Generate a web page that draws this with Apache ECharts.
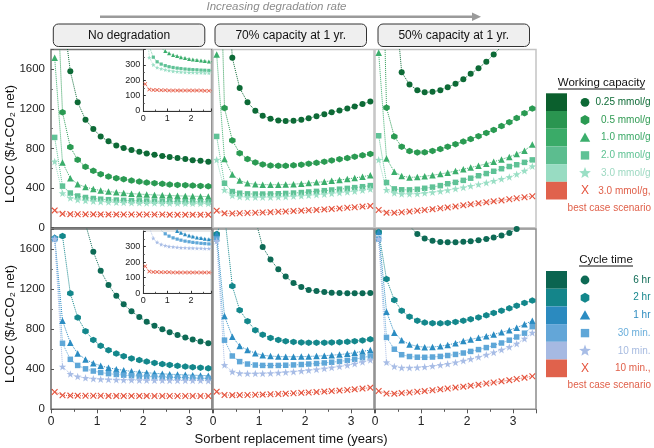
<!DOCTYPE html>
<html><head><meta charset="utf-8">
<script src="https://cdn.jsdelivr.net/npm/echarts@6/dist/echarts.min.js"></script>
<style>html,body{margin:0;padding:0;background:#fff}#c{width:654px;height:448px}</style>
</head><body><div id="c"></div>
<script>
// ---------- DATA ----------
const years = [0.08,0.25,0.42,0.58,0.75,0.92,1.08,1.25,1.42,1.58,1.75,1.92,2.08,2.25,2.42,2.58,2.75,2.92,3.08,3.25,3.42];

const capLabels = ['0.25 mmol/g','0.5 mmol/g','1.0 mmol/g','2.0 mmol/g','3.0 mmol/g','3.0 mmol/g,'];
const cycLabels = ['6 hr','2 hr','1 hr','30 min.','10 min.','10 min.,'];
const panelTitles = ['No degradation','70% capacity at 1 yr.','50% capacity at 1 yr.'];
const yTicks = [0,400,800,1200,1600];
const insetYTicks = [0,100,200,300];

// Top row: working capacity — no degradation
const tlC025 = [5700,2200,1581,1267,1091,997,922,872,831,804,784,767,750,736,723,713,703,693,682,676,666];
const tlC05  = [3000,1166,814,686,615,574,541,517,500,490,476,466,456,449,443,436,432,429,426,422,418];
const tlC10  = [1716,659,500,440,410,390,375,365,357,350,344,339,335,331,328,325,322,320,318,316,314];
const tlC20  = [912,420,350,320,305,295,288,283,279,276,273,271,269,268,266,265,264,263,262,262,261];
const tlC30  = [669,348,300,283,274,268,263,259,256,254,252,251,250,249,248,247,247,246,246,245,245];
const tlBest = [175,140,137,136,135,135,134,134,134,133,133,133,133,133,133,132,132,132,132,132,132];
// Top row: 70% capacity at 1 yr
const tmC025 = [9000,3000,1716,1412,1267,1182,1132,1101,1084,1078,1080,1090,1105,1125,1145,1165,1185,1205,1225,1250,1274];
const tmC05  = [4000,1209,882,753,693,659,639,628,625,625,630,637,646,656,667,679,692,704,717,731,745];
const tmC10  = [1750,693,537,476,449,439,435,434,434,436,440,445,451,458,465,473,482,492,503,515,530];
const tmC20  = [922,449,365,348,342,340,340,341,343,346,350,355,361,367,374,381,389,397,405,414,425];
const tmC30  = [686,382,325,312,308,307,307,308,310,313,317,322,327,333,339,346,353,361,369,378,390];
const tmBest = [172,145,144,146,148,151,154,157,161,164,168,172,176,180,185,190,195,201,207,213,220];
// Top row: 50% capacity at 1 yr
const trC025 = [12000,4000,2400,1571,1446,1389,1368,1372,1389,1419,1453,1500,1554,1611,1676,1750,1830,1920,2010,2110,2220];
const trC05  = [4500,1212,920,818,774,760,762,775,794,818,843,870,895,925,957,988,1027,1066,1108,1157,1204];
const trC10  = [1766,700,565,522,508,512,520,530,542,556,572,590,608,626,645,666,690,715,745,778,840];
const trC20  = [929,456,392,383,382,388,398,410,425,444,458,478,500,525,547,570,596,618,636,660,685];
const trC30  = [686,382,350,340,340,343,350,358,368,380,393,407,422,438,455,473,492,512,540,575,620];
const trBest = [179,152,150,156,163,171,179,187,196,205,215,226,236,246,256,266,276,287,297,307,318];
// Bottom row: cycle time — no degradation
const blH6   = [14000,4900,3070,2290,1850,1573,1382,1240,1133,1048,979,922,874,833,798,768,741,717,696,676,659];
const blH2   = [1710,1730,1158,916,780,693,634,590,556,530,508,491,476,463,452,443,434,427,420,415,409];
const blH1   = [1717,885,665,558,498,460,434,415,400,389,379,371,365,359,355,350,347,344,341,338,336];
const blM30  = [1700,659,499,438,404,382,367,356,348,341,335,331,327,324,321,319,317,315,313,311,309];
const blM10  = [1700,426,353,327,314,306,301,298,295,293,292,291,290,289,289,288,288,287,287,287,286];
const blBest = [173,140,137,136,135,135,135,134,134,134,134,134,134,133,133,133,133,133,133,133,133];
// Bottom row: 70% capacity at 1 yr
const bmH6   = [20000,7000,4300,3000,2300,1900,1620,1495,1398,1325,1262,1222,1192,1180,1170,1163,1160,1158,1158,1158,1160];
const bmH2   = [1750,1950,1230,990,880,790,745,712,693,680,672,667,665,665,665,667,670,674,680,688,699];
const bmH1   = [1750,931,725,632,592,560,540,531,527,525,525,526,528,531,535,540,546,555,565,578,592];
const bmM30  = [1700,690,532,476,452,442,438,437,438,440,443,447,452,457,463,470,478,488,500,515,532];
const bmM10  = [1680,442,376,360,357,357,358,361,365,370,376,383,390,398,407,417,427,440,455,472,492];
const bmBest = [176,143,141,142,143,145,147,150,153,156,160,164,168,172,177,182,187,193,199,207,216];
// Bottom row: 50% capacity at 1 yr
const brH6   = [20000,6000,3500,2300,1830,1750,1705,1683,1670,1667,1668,1672,1678,1688,1700,1715,1735,1760,1800,1840,1890];
const brH2   = [1770,1300,1090,985,925,885,866,860,858,862,872,885,900,917,938,962,985,1008,1035,1062,1085];
const brH1   = [1770,975,765,690,648,628,620,622,630,642,660,683,698,714,730,748,768,790,815,848,885];
const brM30  = [1700,718,600,545,527,520,519,522,528,537,548,562,578,596,616,638,662,690,722,760,825];
const brM10  = [1700,469,428,416,415,418,424,432,442,454,468,484,502,522,544,568,594,622,655,705,765];
const brBest = [183,158,156,162,168,175,182,190,199,208,217,226,236,246,257,268,279,291,303,316,330];

// ---------- STYLE ----------
const greenCols = ['#0d6a36','#2a9a52','#3bae6c','#5fc296','#9adfc5','#e5533d'];
const blueCols  = ['#0d6a55','#13878b','#2b8cc2','#5fa7d8','#a8bde6','#e5533d'];
const greenSw = ['#0b5f2d','#2a9550','#3aab68','#5cbd8f','#98dcc2','#e0624c'];
const blueSw  = ['#0b6450','#14858a','#2b8abf','#63a6d8','#a6b9e2','#e0624c'];
const greenTxt = ['#0e6b36','#2f9a52','#3aa866','#5ec293','#9ed9c2','#e0604a'];
const blueTxt  = ['#0e6a55','#17878d','#2e8cc0','#6aaedb','#a7bbe0','#e0604a'];

const HEX = 'path://M0,-10L8.66,-5L8.66,5L0,10L-8.66,5L-8.66,-5Z';
const STAR = 'path://M0,-10L2.35,-3.24L9.51,-3.09L3.8,1.24L5.88,8.09L0,4L-5.88,8.09L-3.8,1.24L-9.51,-3.09L-2.35,-3.24Z';
const XS = 'path://M-10,-7.5L-7.5,-10L0,-2.5L7.5,-10L10,-7.5L2.5,0L10,7.5L7.5,10L0,2.5L-7.5,10L-10,7.5L-2.5,0Z';
const symbols = ['circle', HEX, 'triangle', 'rect', STAR, XS];
const sizes = [6, 6.5, 6.5, 5.5, 7.5, 6.5];
const insetSizes = [3.5, 3.5, 4, 3.2, 4.5, 4];

const FONT = 'Liberation Sans, Arial, Helvetica, sans-serif';

const panels = [
  {g:{left:51, top:49.5, width:161, height:178.2}, bc:'#707070', row:0, left:true, data:[tlC025,tlC05,tlC10,tlC20,tlC30,tlBest], cols:greenCols},
  {g:{left:213, top:49.5, width:161, height:178.2}, bc:'#c4c4c4', row:0, data:[tmC025,tmC05,tmC10,tmC20,tmC30,tmBest], cols:greenCols},
  {g:{left:375, top:49.5, width:161, height:178.2}, bc:'#c4c4c4', row:0, data:[trC025,trC05,trC10,trC20,trC30,trBest], cols:greenCols},
  {g:{left:51, top:229, width:161, height:180.3}, bc:'#6a6a6a', row:1, left:true, data:[blH6,blH2,blH1,blM30,blM10,blBest], cols:blueCols},
  {g:{left:213, top:229, width:161, height:180.3}, bc:'#8c8c8c', row:1, data:[bmH6,bmH2,bmH1,bmM30,bmM10,bmBest], cols:blueCols},
  {g:{left:375, top:229, width:161, height:180.3}, bc:'#8c8c8c', row:1, data:[brH6,brH2,brH1,brM30,brM10,brBest], cols:blueCols}
];
const insets = [
  {g:{left:143.3, top:49.5, width:67.7, height:61.5}, data:panels[0].data, cols:greenCols},
  {g:{left:143.3, top:231, width:67.7, height:62.3}, data:panels[3].data, cols:blueCols}
];

const grid = [], xAxis = [], yAxis = [], series = [];
const intFmt = v => Number.isInteger(v) ? String(v) : '';
panels.forEach((p, i) => {
  grid.push(Object.assign({show:true, borderColor:p.bc, borderWidth:1.5, backgroundColor:'transparent'}, p.g));
  xAxis.push({type:'value', gridIndex:i, min:0, max:3.5, interval:1,
    axisLine:{show:false}, splitLine:{show:false},
    axisTick:{show:p.row===1, length:4, lineStyle:{color:'#555'}},
    minorTick:{show:p.row===1, splitNumber:2, length:2.5, lineStyle:{color:'#555'}},
    axisLabel:{show:p.row===1, fontSize:12, color:'#222', fontFamily:FONT, margin:6, formatter:intFmt}});
  yAxis.push({type:'value', gridIndex:i, min:0, max:1800, interval:400,
    axisLine:{show:false}, splitLine:{show:false},
    axisTick:{show:!!p.left, inside:true, length:3, lineStyle:{color:'#555'}},
    minorTick:{show:!!p.left, splitNumber:2, length:2, lineStyle:{color:'#777'}},
    axisLabel:{show:!!p.left, fontSize:11.5, color:'#222', fontFamily:FONT, margin:6,
      formatter: v => yTicks.includes(v) ? String(v) : ''}});
  p.data.forEach((arr, k) => {
    series.push({type:'line', xAxisIndex:i, yAxisIndex:i, silent:true, animation:false, clip:true,
      data: years.map((x, j) => [x, arr[j]]), symbol: symbols[k], symbolSize: sizes[k], showSymbol:true,
      itemStyle:{color:p.cols[k]}, lineStyle:{color:p.cols[k], width:1, type:'dotted'}, z: 3});
  });
});
insets.forEach((p, n) => {
  const i = panels.length + n;
  grid.push(Object.assign({show:true, borderColor:'#c8c8c8', borderWidth:0.8, backgroundColor:'#fff', z:5}, p.g));
  xAxis.push({type:'value', gridIndex:i, min:0, max:2.84, interval:1, z:6,
    axisLine:{show:true, lineStyle:{color:'#333', width:1}}, splitLine:{show:false},
    axisTick:{show:true, inside:true, length:2.5, lineStyle:{color:'#333'}},
    minorTick:{show:true, splitNumber:2, length:1.5, lineStyle:{color:'#555'}},
    axisLabel:{fontSize:9, color:'#222', fontFamily:FONT, margin:3, formatter:intFmt}});
  yAxis.push({type:'value', gridIndex:i, min:0, max:400, interval:100, z:6,
    axisLine:{show:true, lineStyle:{color:'#333', width:1}}, splitLine:{show:false},
    axisTick:{show:true, inside:true, length:2.5, lineStyle:{color:'#333'}},
    minorTick:{show:true, splitNumber:2, length:1.5, lineStyle:{color:'#555'}},
    axisLabel:{fontSize:9, color:'#222', fontFamily:FONT, margin:3,
      formatter: v => insetYTicks.includes(v) ? String(v) : ''}});
  p.data.forEach((arr, k) => {
    series.push({type:'line', xAxisIndex:i, yAxisIndex:i, silent:true, animation:false, clip:true, z:7,
      data: years.map((x, j) => [x, arr[j]]), symbol: symbols[k], symbolSize: insetSizes[k], showSymbol:true,
      itemStyle:{color:p.cols[k]}, lineStyle:{color:p.cols[k], width:0.8, type:'dotted'}});
  });
});

// ---------- GRAPHIC (headers, titles, legends) ----------
const gfx = [];
const txt = (x, y, text, o) => gfx.push({type:'text', x, y, z:50, rotation:o && o.rot || 0,
  style:{text, fill:o && o.fill || '#111', font:(o && o.style || '') + ' ' + (o && o.size || 12) + 'px ' + FONT,
    textAlign:o && o.align || 'center', textVerticalAlign:'middle'}});

txt(276.5, 6.5, 'Increasing degradation rate', {fill:'#8c8c8c', size:11.5, style:'italic'});
gfx.push({type:'line', z:50, shape:{x1:100, y1:16.7, x2:474, y2:16.7}, style:{stroke:'#9a9a9a', lineWidth:2.5}});
gfx.push({type:'polygon', z:50, shape:{points:[[472,12.5],[481,16.7],[472,20.9]]}, style:{fill:'#9a9a9a'}});
const boxX = [53.3, 215, 378];
panelTitles.forEach((t, i) => {
  gfx.push({type:'rect', z:50, shape:{x:boxX[i], y:24, width:151.5, height:22.5, r:5}, style:{fill:'#efefef', stroke:'#333', lineWidth:1}});
  txt(boxX[i] + 75.8, 35.5, t, {size:12});
});
txt(10, 144, 'LCOC ($/t-CO\u2082 net)', {size:13.5, rot:Math.PI/2});
txt(10, 324, 'LCOC ($/t-CO\u2082 net)', {size:13.5, rot:Math.PI/2});
txt(291, 439, 'Sorbent replacement time (years)', {size:13});

function marker(k, cx, cy, color) {
  if (k === 0) gfx.push({type:'circle', z:50, shape:{cx, cy, r:4.4}, style:{fill:color}});
  else if (k === 1) { const pts=[]; for (let a=0;a<6;a++){const t=-Math.PI/2+a*Math.PI/3; pts.push([cx+5*Math.cos(t), cy+5*Math.sin(t)]);} gfx.push({type:'polygon', z:50, shape:{points:pts}, style:{fill:color}}); }
  else if (k === 2) gfx.push({type:'polygon', z:50, shape:{points:[[cx,cy-5.2],[cx+5.2,cy+4],[cx-5.2,cy+4]]}, style:{fill:color}});
  else if (k === 3) gfx.push({type:'rect', z:50, shape:{x:cx-4.2, y:cy-4.2, width:8.4, height:8.4}, style:{fill:color}});
  else if (k === 4) { const pts=[]; for (let a=0;a<10;a++){const t=-Math.PI/2+a*Math.PI/5; const r=a%2?2.6:6.2; pts.push([cx+r*Math.cos(t), cy+r*Math.sin(t)]);} gfx.push({type:'polygon', z:50, shape:{points:pts}, style:{fill:color}}); }
  else txt(cx, cy, 'X', {fill:color, size:12});
}
function legend(title, titleY, x0, x1, swY, sw, mc, tc, labels) {
  txt((x0 + x1) / 2, titleY, title, {size:11.5});
  gfx.push({type:'line', z:50, shape:{x1:x0, y1:titleY + 6, x2:x1, y2:titleY + 6}, style:{stroke:'#111', lineWidth:1}});
  for (let k = 0; k < 6; k++) {
    const y = swY + k * 17.7;
    gfx.push({type:'rect', z:50, shape:{x:546, y, width:21, height:17.7}, style:{fill:sw[k]}});
    marker(k, 585, y + 9, mc[k]);
    txt(650.5, y + 9, labels[k], {fill:tc[k], size:10, align:'right'});
  }
  txt(651, swY + 6 * 17.7 + 8.5, 'best case scenario', {fill:tc[5], size:10, align:'right'});
}
legend('Working capacity', 83, 558, 645, 93.3, greenSw, greenCols, greenTxt, capLabels);
legend('Cycle time', 260, 579, 633, 271, blueSw, blueCols, blueTxt, cycLabels);

const chart = echarts.init(document.getElementById('c'), null, {renderer:'canvas'});
chart.setOption({animation:false, backgroundColor:'#fff', grid, xAxis, yAxis, series, graphic:{elements:gfx}});
</script></body></html>
